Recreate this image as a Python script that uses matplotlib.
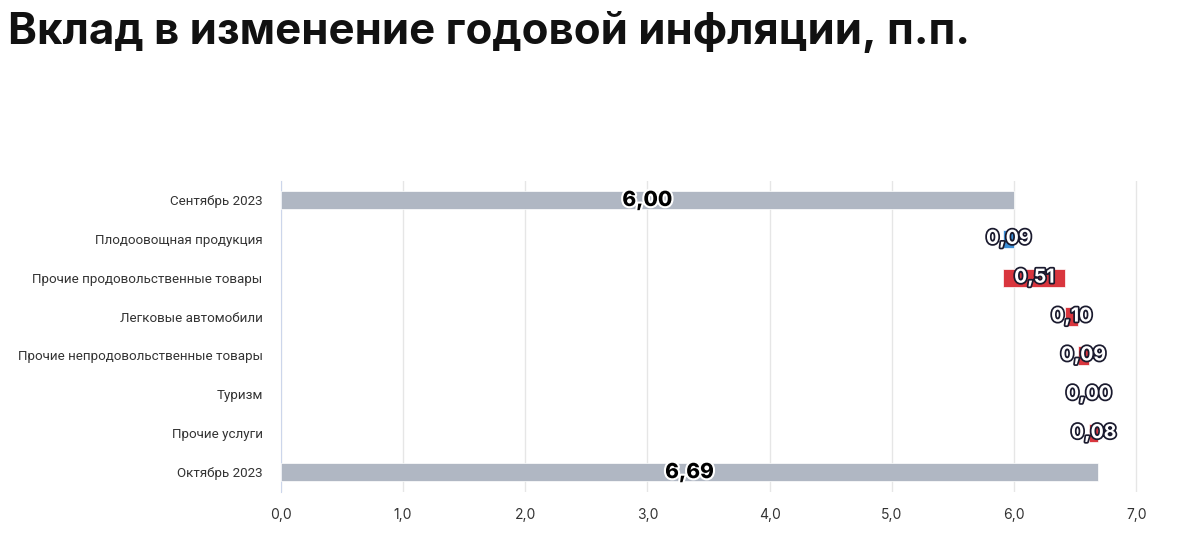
import matplotlib
matplotlib.use('Agg')
import matplotlib.pyplot as plt
import matplotlib.patheffects as pe
from matplotlib.ticker import FuncFormatter

plt.rcParams['font.family'] = ['Inter', 'DejaVu Sans']

# данные
categories = ['Сентябрь 2023', 'Плодоовощная продукция', 'Прочие продовольственные товары',
              'Легковые автомобили', 'Прочие непродовольственные товары', 'Туризм',
              'Прочие услуги', 'Октябрь 2023']
changes = [6.00, -0.09, 0.51, 0.10, 0.09, 0.00, 0.08, 6.69]
is_total = [True, False, False, False, False, False, False, True]

col_total = '#b0b7c3'
col_up = '#d9363e'
col_down = '#3d8fd6'

fig = plt.figure(figsize=(12, 5.38), dpi=100)
ax = fig.add_axes([0.234, 0.0864, 0.714, 0.578])

running = 0.0
for i, (v, tot) in enumerate(zip(changes, is_total)):
    if tot:
        left, width, c = 0, v, col_total
        running = v
    else:
        left = running if v >= 0 else running + v
        width = abs(v)
        c = col_up if v >= 0 else col_down
        running += v
    ax.barh(i, width, left=left, height=0.47, color=c, edgecolor='white', linewidth=0.5, zorder=3)
    lbl = f'{abs(v):.2f}'.replace('.', ',')
    xc = left + width / 2
    if tot:
        ax.text(xc, i, lbl, ha='center', va='center', fontsize=15, fontweight='heavy',
                color='black', zorder=5,
                path_effects=[pe.withStroke(linewidth=3, foreground='white')])
    else:
        ax.text(xc, i, lbl, ha='center', va='center', fontsize=14, fontweight='bold',
                color='white', zorder=5,
                path_effects=[pe.withStroke(linewidth=2.5, foreground='#1a1a2e')])

ax.set_ylim(7.5, -0.5)
ax.set_xlim(0, 7.01)
ax.set_xticks(range(0, 8))
ax.xaxis.set_major_formatter(FuncFormatter(lambda x, p: f'{x:.1f}'.replace('.', ',')))
ax.set_yticks(range(len(categories)))
ax.tick_params(axis='y', length=0, pad=13, labelcolor='#333333')
ax.tick_params(axis='x', length=0, pad=12, labelsize=10, labelcolor='#333333')
ax.set_yticklabels(categories, fontfamily=['Roboto', 'DejaVu Sans'], fontsize=9.6)
ax.grid(axis='x', color='#e6e6e6', linewidth=1, zorder=0)
for s in ['top', 'right', 'bottom']:
    ax.spines[s].set_visible(False)
ax.spines['left'].set_color('#ccd6eb')

fig.text(0.007, 0.94, 'Вклад в изменение годовой инфляции, п.п.', fontsize=31.5,
         fontweight='bold', color='#111111', va='center', ha='left')

fig.savefig('out.png', dpi=100)
